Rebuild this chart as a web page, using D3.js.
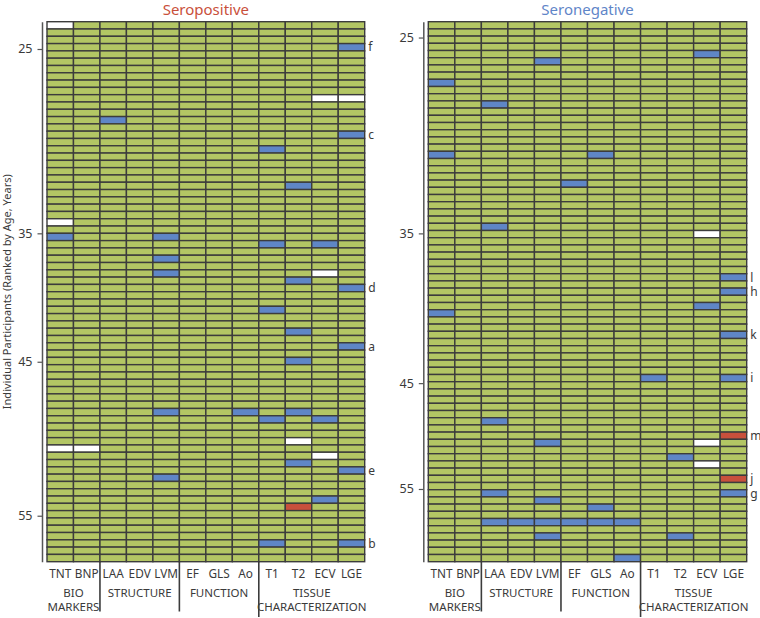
<!DOCTYPE html>
<html>
<head>
<meta charset="utf-8">
<script src="https://cdn.jsdelivr.net/npm/d3@7"></script>
<style>
  html, body { margin: 0; padding: 0; background: #fff; }
  svg { display: block; font-family: "Noto Sans", "Open Sans", sans-serif; }
</style>
</head>
<body>
<svg id="chart" width="760" height="618"></svg>
<script>
// ---------- DATA ----------
const columns = ["TNT","BNP","LAA","EDV","LVM","EF","GLS","Ao","T1","T2","ECV","LGE"];
const groupSizes = [2, 3, 3, 4];
const groupLabels = [["BIO","MARKERS"], ["STRUCTURE"], ["FUNCTION"], ["TISSUE","CHARACTERIZATION"]];
const tickLabels = [25, 35, 45, 55];

// Seropositive panel
const posTitle = "Seropositive";
const posRows = 74;
const posTickRows = [3.74, 29.0, 46.6, 67.7];
const posAbnormal = [[3,"LGE"],[13,"LAA"],[15,"LGE"],[17,"T1"],[22,"T2"],[29,"TNT"],[29,"LVM"],[30,"T1"],[30,"ECV"],
  [32,"LVM"],[34,"LVM"],[35,"T2"],[36,"LGE"],[39,"T1"],[42,"T2"],[44,"LGE"],[46,"T2"],[53,"LVM"],[53,"Ao"],[53,"T2"],
  [54,"T1"],[54,"ECV"],[60,"T2"],[61,"LGE"],[62,"LVM"],[65,"ECV"],[71,"T1"],[71,"LGE"]];
const posMissing = [[0,"TNT"],[10,"ECV"],[10,"LGE"],[27,"TNT"],[34,"ECV"],[57,"T2"],[58,"TNT"],[58,"BNP"],[59,"ECV"]];
const posSevere = [[66,"T2"]];
const posLetters = [[3,"f"],[15,"c"],[36,"d"],[44,"a"],[61,"e"],[71,"b"]];

// Seronegative panel
const negTitle = "Seronegative";
const negRows = 75;
const negTickRows = [2.2, 29.4, 50.2, 64.9];
const negAbnormal = [[4,"ECV"],[5,"LVM"],[8,"TNT"],[11,"LAA"],[18,"TNT"],[18,"GLS"],[22,"EF"],[28,"LAA"],[35,"LGE"],
  [37,"LGE"],[39,"ECV"],[40,"TNT"],[43,"LGE"],[49,"T1"],[49,"LGE"],[55,"LAA"],[58,"LVM"],[60,"T2"],[65,"LAA"],[65,"LGE"],
  [66,"LVM"],[67,"GLS"],[69,"LAA"],[69,"EDV"],[69,"LVM"],[69,"EF"],[69,"GLS"],[69,"Ao"],[71,"LVM"],[71,"T2"],[74,"Ao"]];
const negMissing = [[29,"ECV"],[58,"ECV"],[61,"ECV"]];
const negSevere = [[57,"LGE"],[63,"LGE"]];
const negLetters = [[35,"l"],[37,"h"],[43,"k"],[49,"i"],[57,"m"],[63,"j"],[65,"g"]];

const yTitle = "Individual Participants (Ranked by Age, Years)";

// ---------- STYLE ----------
const C = {
  normal: "#b3c664", abnormal: "#5f86c6", missing: "#ffffff", severe: "#c8503c",
  grid: "#3c3c3c", text: "#3a3a3a", posTitle: "#c9503b", negTitle: "#5f86c8", axis: "#555"
};
const gridTop = 21.7, gridBottom = 561.7;

const svg = d3.select("#chart");

function panel(cfg) {
  const g = svg.append("g");
  const x = d3.scaleBand().domain(columns).range([cfg.x0, cfg.x1]);
  const y = d3.scaleLinear().domain([0, cfg.rows]).range([gridTop, gridBottom]);
  const rowH = y(1) - y(0);

  const status = new Map();
  cfg.abnormal.forEach(([r, c]) => status.set(r + "|" + c, C.abnormal));
  cfg.missing.forEach(([r, c]) => status.set(r + "|" + c, C.missing));
  cfg.severe.forEach(([r, c]) => status.set(r + "|" + c, C.severe));

  const cells = [];
  d3.range(cfg.rows).forEach(r => columns.forEach(c => cells.push({r, c, fill: status.get(r + "|" + c) || C.normal})));

  g.append("g").selectAll("rect").data(cells).join("rect")
    .attr("x", d => x(d.c)).attr("y", d => y(d.r))
    .attr("width", x.bandwidth()).attr("height", rowH)
    .attr("fill", d => d.fill)
    .attr("stroke", C.grid).attr("stroke-width", 1.4);

  let acc = 0;
  groupSizes.forEach((n, i) => {
    const c0 = columns[acc], c1 = columns[acc + n - 1];
    const gx0 = x(c0), gx1 = x(c1) + x.bandwidth();
    const cx = (gx0 + gx1) / 2;
    groupLabels[i].forEach((t, j) => {
      g.append("text").attr("x", cx).attr("y", 596.5 + j * 14)
        .attr("text-anchor", "middle").attr("font-size", 11.5).attr("fill", C.text).text(t);
    });
    if (i > 0) {
      g.append("line").attr("x1", gx0).attr("x2", gx0).attr("y1", gridBottom)
        .attr("y2", i === 3 ? 617 : 611.5).attr("stroke", C.grid).attr("stroke-width", 1.6);
    }
    acc += n;
  });

  g.append("g").selectAll("text").data(columns).join("text")
    .attr("x", d => x(d) + x.bandwidth() / 2).attr("y", 577.5)
    .attr("text-anchor", "middle").attr("font-size", 11.8).attr("fill", C.text).text(d => d);

  const ax = d3.axisLeft(y).tickValues(cfg.tickRows).tickFormat((d, i) => tickLabels[i])
    .tickSize(4.5).tickSizeOuter(0).tickPadding(5);
  const axG = g.append("g").attr("transform", `translate(${cfg.x0 - 5},0)`).call(ax);
  axG.select(".domain").attr("stroke", C.axis).attr("stroke-width", 1.5);
  axG.selectAll(".tick line").attr("stroke", C.axis).attr("stroke-width", 1.2);
  axG.selectAll(".tick text").attr("font-size", 12.5).attr("fill", C.text).attr("font-family", "Noto Sans, sans-serif");

  g.append("g").selectAll("text").data(cfg.letters).join("text")
    .attr("x", cfg.x1 + 3.5).attr("y", d => y(d[0] + 0.5)).attr("dy", "0.35em")
    .attr("font-size", 12).attr("fill", C.text).text(d => d[1]);

  g.append("text").attr("x", (cfg.x0 + cfg.x1) / 2).attr("y", 15)
    .attr("text-anchor", "middle").attr("font-size", 15).attr("fill", cfg.titleColor).text(cfg.title);
}

panel({x0: 47, x1: 364.7, rows: posRows, tickRows: posTickRows, abnormal: posAbnormal, missing: posMissing,
  severe: posSevere, letters: posLetters, title: posTitle, titleColor: C.posTitle});
panel({x0: 428.3, x1: 746.7, rows: negRows, tickRows: negTickRows, abnormal: negAbnormal, missing: negMissing,
  severe: negSevere, letters: negLetters, title: negTitle, titleColor: C.negTitle});

svg.append("text").attr("transform", `translate(11,${(gridTop + gridBottom) / 2}) rotate(-90)`)
  .attr("text-anchor", "middle").attr("font-size", 11).attr("fill", C.text).text(yTitle);
</script>
</body>
</html>
